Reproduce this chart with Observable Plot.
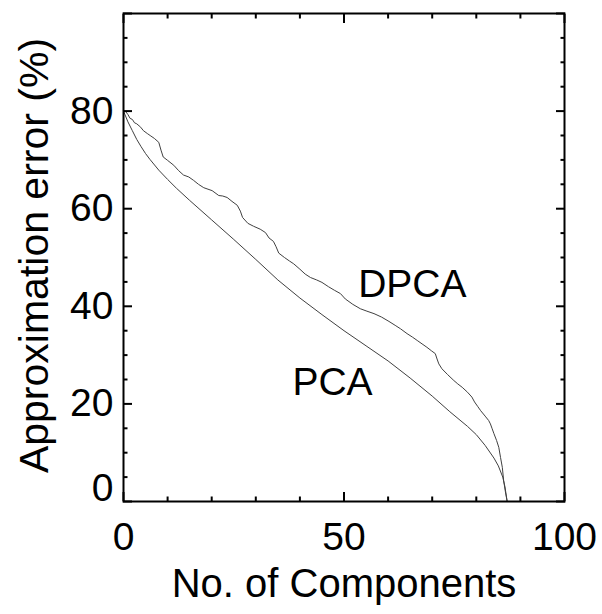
<!DOCTYPE html>
<html>
<head>
<meta charset="utf-8">
<script src="https://cdn.jsdelivr.net/npm/d3@7"></script>
<script src="https://cdn.jsdelivr.net/npm/@observablehq/plot@0.6"></script>
<style>
  html, body { margin: 0; padding: 0; background: #fff; }
  #chart svg { display: block; }
</style>
</head>
<body>
<div id="chart"></div>
<script>
// ---- Data ----
const pcaX = [0, 1, 2, 3, 4, 5, 6, 8, 10, 12, 15, 20, 25, 30, 35, 40, 45, 50, 55, 60, 65, 70, 74, 78, 80, 82, 84, 85, 86, 86.5, 87];
const pcaY = [80, 77.8, 76, 74.2, 72.7, 71.3, 70.1, 67.9, 66, 64.2, 61.7, 57.7, 53.7, 49.6, 45.4, 41.7, 38.3, 35.0, 31.9, 28.8, 25.3, 21.6, 18.4, 15.4, 13.7, 11.5, 8.9, 7.3, 5.0, 3.0, 0];

const dpcaX = [0, 0.5, 1, 1.5, 2, 2.5, 3, 3.9, 4.5, 5.4, 6.2, 7, 8, 8.5, 9, 10, 11.4, 12.5, 13.6, 14.8, 15.9, 17, 18.2, 20.1, 21.6, 22.5, 23.5, 24.6, 25.8, 26.5, 27, 28.2, 29.5, 31, 32.2, 33, 34, 34.6, 35.2, 36.5, 37.6, 38.6, 40, 41.2, 42.4, 43.8, 45, 46.5, 47.8, 49.2, 50.3, 52, 53.7, 55.2, 56.8, 58.5, 60.2, 61.6, 62.8, 64.3, 65.5, 66.6, 67.7, 68.8, 69.8, 70.7, 71.1, 71.5, 72.2, 73.5, 74.9, 75.8, 76.8, 78, 79, 79.6, 80.3, 81, 82, 82.8, 83.2, 83.6, 84, 84.6, 85.1, 85.5, 85.9, 86.2, 86.6, 87];
const dpcaY = [80, 79.9, 79.3, 78.5, 78.3, 77.6, 77.4, 76.7, 76.0, 75.4, 74.9, 74.4, 73.6, 72.0, 70.6, 69.9, 68.9, 67.8, 66.9, 66.5, 65.8, 65.0, 64.3, 63.7, 62.7, 62.6, 62.3, 61.5, 60.7, 59.5, 58.2, 57.0, 56.4, 55.8, 55.1, 54.0, 53.3, 52.2, 50.9, 50.0, 49.3, 48.7, 47.6, 46.6, 45.9, 45.4, 44.9, 44.0, 43.3, 42.6, 41.5, 40.4, 39.5, 39.0, 38.5, 37.8, 36.9, 36.1, 35.4, 34.4, 33.7, 33.0, 32.3, 31.6, 30.9, 30.3, 29.2, 28.2, 27.2, 26.0, 24.8, 24.1, 23.4, 22.4, 21.4, 20.4, 19.5, 18.6, 17.5, 16.6, 15.9, 14.9, 13.9, 12.5, 11.1, 9.0, 7.0, 4.3, 2.0, 0];

const seriesLabels = ["DPCA", "PCA"];
const seriesLabelX = [65.5, 47.4];
const seriesLabelY = [44.4, 24.3];

const xMajorTicks = [0, 50, 100];
const xMinorTicks = [10, 20, 30, 40, 60, 70, 80, 90];
const yMajorTicks = [0, 20, 40, 60, 80, 100];
const yMinorTicks = [5, 10, 15, 25, 30, 35, 45, 50, 55, 65, 70, 75, 85, 90, 95];
const xTickLabels = [0, 50, 100];
const yTickLabels = [20, 40, 60, 80];
const yZeroLabel = [0];

const xTitle = "No. of Components";
const yTitle = "Approximation error (%)";

// ---- Build tables ----
const pca = pcaX.map((x, i) => ({x, y: pcaY[i]}));
const dpca = dpcaX.map((x, i) => ({x, y: dpcaY[i]}));
const annotations = seriesLabels.map((t, i) => ({t, x: seriesLabelX[i], y: seriesLabelY[i]}));

const FS = 39;
const blank = () => "";
const tickOpts = {tickFormat: blank, label: null, strokeWidth: 2, stroke: "black"};

const chart = Plot.plot({
  width: 602,
  height: 614,
  marginLeft: 123,
  marginRight: 38,
  marginTop: 13,
  marginBottom: 113,
  style: {fontFamily: "'Liberation Sans', Arial, Helvetica, sans-serif", background: "white", color: "black"},
  x: {domain: [0, 100], axis: null},
  y: {domain: [0, 100], axis: null},
  marks: [
    Plot.line(pca, {x: "x", y: "y", stroke: "#404040", strokeWidth: 1}),
    Plot.line(dpca, {x: "x", y: "y", stroke: "#404040", strokeWidth: 1}),
    // inward ticks on all four sides
    Plot.axisX(xMajorTicks, {anchor: "bottom", tickSize: -9, ...tickOpts}),
    Plot.axisX(xMinorTicks, {anchor: "bottom", tickSize: -4.5, ...tickOpts}),
    Plot.axisX(xMajorTicks, {anchor: "top", tickSize: -9, ...tickOpts}),
    Plot.axisX(xMinorTicks, {anchor: "top", tickSize: -4.5, ...tickOpts}),
    Plot.axisY(yMajorTicks, {anchor: "left", tickSize: -9, ...tickOpts}),
    Plot.axisY(yMinorTicks, {anchor: "left", tickSize: -4.5, ...tickOpts}),
    Plot.axisY(yMajorTicks, {anchor: "right", tickSize: -9, ...tickOpts}),
    Plot.axisY(yMinorTicks, {anchor: "right", tickSize: -4.5, ...tickOpts}),
    // tick labels
    Plot.axisX(xTickLabels, {anchor: "bottom", tickSize: 0, tickPadding: 21, fontSize: FS, label: null, fill: "black"}),
    Plot.axisY(yTickLabels, {anchor: "left", tickSize: 0, tickPadding: 10, fontSize: FS, label: null, fill: "black"}),
    Plot.axisY(yZeroLabel, {anchor: "left", tickSize: 0, tickPadding: 10, dy: -13, fontSize: FS, label: null, fill: "black"}),
    // axis titles
    Plot.text([xTitle], {frameAnchor: "bottom", dy: 67, lineAnchor: "top", textAnchor: "middle", text: d => d, fontSize: 40, fill: "black"}),
    Plot.text([yTitle], {frameAnchor: "left", dx: -105, dy: -2, rotate: -90, lineAnchor: "top", textAnchor: "middle", text: d => d, fontSize: 41, fill: "black"}),
    // series labels
    Plot.text(annotations, {x: "x", y: "y", text: "t", fontSize: FS, fill: "black", lineAnchor: "middle"}),
    Plot.frame({stroke: "black", strokeWidth: 2})
  ]
});
document.getElementById("chart").appendChild(chart);
</script>
</body>
</html>
